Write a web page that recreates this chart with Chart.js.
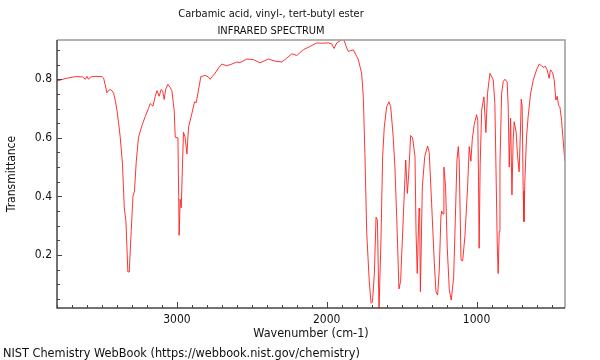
<!DOCTYPE html>
<html>
<head>
<meta charset="utf-8">
<script src="https://cdn.jsdelivr.net/npm/chart.js@4.4.1/dist/chart.umd.min.js"></script>
<style>
html,body{margin:0;padding:0;background:#fff;}
#wrap{width:600px;height:360px;position:relative;}
</style>
</head>
<body>
<div id="wrap"><canvas id="c" width="600" height="360"></canvas></div>
<script>
const titleLines = ["Carbamic acid, vinyl-, tert-butyl ester", "INFRARED SPECTRUM"];
const xAxisTitle = "Wavenumber (cm-1)";
const yAxisTitle = "Transmittance";
const footerText = "NIST Chemistry WebBook (https://webbook.nist.gov/chemistry)";
const xTickLabels = [1000, 2000, 3000];
const yTickLabels = [0.2, 0.4, 0.6, 0.8];

const wavenumbers = [
3800,3740,3678,3630,3611,3600,3590,3575,3540,3500,3489,3478,3467,3455,3445,3432,3422,3410,3400,3390,
3378,3363,3351,3340,3327,3318,3305,3293,3283,3271,3256,3233,3211,3190,3178,3160,3145,3133,3118,3105,
3095,3085,3075,3060,3045,3033,3018,3011,2993,2988,2985,2978,2971,2963,2956,2945,2933,2922,2900,2882,
2871,2856,2840,2811,2790,2778,2760,2745,2720,2700,2667,2633,2600,2578,2533,2489,2445,2389,2345,2300,
2267,2233,2200,2156,2111,2067,2033,1989,1967,1951,1933,1900,1885,1867,1856,1840,1822,1800,1789,1778,
1767,1756,1745,1733,1716,1704,1695,1682,1671,1662,1651,1638,1627,1616,1600,1585,1573,1556,1545,1533,
1518,1507,1489,1473,1462,1453,1440,1427,1411,1404,1396,1384,1380,1375,1362,1346,1327,1316,
1300,1282,1271,1260,1249,1238,1233,1224,1218,1207,1196,1182,1169,1153,1142,1131,1122,1116,1104,
1093,1078,1060,1049,1038,1029,1016,1000,992,987,983,976,966,951,938,927,
911,889,878,871,862,856,849,844,833,822,811,796,789,782,773,764,756,749,
736,727,716,707,702,696,689,684,678,667,656,640,622,600,582,567,551,542,529,516,
507,493,482,471,462,453,444,433,422,411
];
const transmittance = [
.794,.803,.809,.808,.800,.810,.800,.808,.810,.809,.804,.780,.754,.762,.765,.760,.752,.725,.694,.655,
.602,.510,.361,.315,.142,.142,.280,.400,.418,.520,.602,.642,.673,.700,.717,.708,.740,.761,.742,.765,
.760,.731,.765,.783,.772,.760,.694,.602,.600,.400,.267,.390,.361,.500,.619,.602,.545,.637,.683,.723,
.720,.763,.809,.813,.808,.800,.812,.821,.840,.852,.846,.852,.859,.857,.869,.867,.856,.869,.862,.859,
.872,.887,.881,.901,.912,.924,.923,.924,.921,.905,.924,.935,.934,.907,.895,.898,.900,.878,.867,.843,
.821,.740,.540,.274,.108,.035,.040,.137,.329,.320,.014,.251,.536,.637,.706,.723,.706,.600,.500,.330,
.084,.110,.330,.524,.410,.476,.608,.600,.536,.280,.137,.359,.350,.075,.433,.536,.572,.550,
.376,.172,.075,.063,.149,.331,.350,.340,.500,.433,.228,.080,.046,.126,.320,.524,.570,.520,.183,
.180,.262,.433,.570,.520,.593,.645,.679,.660,.450,.223,.510,.695,.740,.618,.752,
.820,.798,.717,.510,.234,.137,.280,.510,.752,.792,.800,.790,.706,.500,.667,.405,.590,.655,
.620,.540,.484,.630,.732,.710,.418,.314,.450,.600,.672,.750,.797,.832,.852,.846,.840,.845,.832,.803,
.832,.823,.798,.729,.742,.710,.706,.660,.590,.520
];

const FONT = "'DejaVu Sans Condensed', 'DejaVu Sans', sans-serif";
const points = wavenumbers.map((w, i) => ({x: w, y: transmittance[i]}));

const decor = {
  id: 'decor',
  afterDraw(chart) {
    const ctx = chart.ctx;
    const a = chart.chartArea;
    const xs = chart.scales.x, ys = chart.scales.y;
    ctx.save();
    ctx.strokeStyle = '#9a9a9a';
    ctx.lineWidth = 1.5;
    ctx.beginPath();
    ctx.moveTo(a.left, a.top); ctx.lineTo(a.right, a.top); ctx.lineTo(a.right, a.bottom);
    ctx.stroke();
    ctx.strokeStyle = '#444';
    ctx.lineWidth = 1.5;
    ctx.beginPath();
    ctx.moveTo(a.left, a.top); ctx.lineTo(a.left, a.bottom); ctx.lineTo(a.right, a.bottom);
    ctx.stroke();
    ctx.lineWidth = 1;
    ctx.strokeStyle = '#444';
    ctx.beginPath();
    for (let w = 500; w <= 3800; w += 100) {
      const px = Math.round(xs.getPixelForValue(w)) + 0.5;
      const len = (w % 1000 === 0) ? 6 : 3;
      ctx.moveTo(px, a.bottom); ctx.lineTo(px, a.bottom - len);
    }
    for (let k = 1; k <= 18; k++) {
      const v = k * 0.05;
      const py = Math.round(ys.getPixelForValue(v)) + 0.5;
      if (py < a.top + 1 || py > a.bottom - 1) continue;
      const len = (k % 4 === 0) ? 5 : 3;
      ctx.moveTo(a.left, py); ctx.lineTo(a.left + len, py);
    }
    ctx.stroke();
    ctx.fillStyle = '#111';
    ctx.textAlign = 'center';
    ctx.textBaseline = 'alphabetic';
    ctx.font = '11px ' + FONT;
    ctx.fillText(titleLines[0], 271, 17);
    ctx.fillText(titleLines[1], 271, 34);
    ctx.font = '12.5px ' + FONT;
    ctx.fillText(xAxisTitle, (a.left + a.right) / 2, 336.5);
    ctx.font = '12.6px ' + FONT;
    ctx.textAlign = 'left';
    ctx.fillText(footerText, 3, 356.5);
    ctx.font = '12px ' + FONT;
    ctx.save();
    ctx.translate(14.5, (a.top + a.bottom) / 2);
    ctx.rotate(-Math.PI / 2);
    ctx.textAlign = 'center';
    ctx.fillText(yAxisTitle, 0, 0);
    ctx.restore();
    ctx.restore();
  }
};

new Chart(document.getElementById('c'), {
  type: 'line',
  data: {
    datasets: [{
      data: points,
      borderColor: 'rgba(255,30,30,0.9)',
      borderWidth: 1,
      pointRadius: 0,
      tension: 0,
      fill: false
    }]
  },
  options: {
    responsive: false,
    animation: false,
    layout: {padding: {top: 40, right: 35, left: 0, bottom: 0}},
    plugins: {legend: {display: false}, tooltip: {enabled: false}, title: {display: false}},
    scales: {
      x: {
        type: 'linear',
        reverse: true,
        min: 410,
        max: 3800,
        afterFit(s) { s.height = 52; },
        afterBuildTicks(s) { s.ticks = xTickLabels.map(v => ({value: v})); },
        grid: {display: false, drawTicks: false},
        border: {display: false},
        ticks: {font: {family: FONT, size: 12}, color: '#111', padding: 5, maxRotation: 0,
                callback: v => String(v)}
      },
      y: {
        type: 'linear',
        min: 0.019,
        max: 0.934,
        afterFit(s) { s.width = 57; },
        afterBuildTicks(s) { s.ticks = yTickLabels.map(v => ({value: v})); },
        grid: {display: false, drawTicks: false},
        border: {display: false},
        ticks: {font: {family: FONT, size: 12}, color: '#111', padding: 5,
                callback: v => v.toFixed(1)}
      }
    }
  },
  plugins: [decor]
});
</script>
</body>
</html>
